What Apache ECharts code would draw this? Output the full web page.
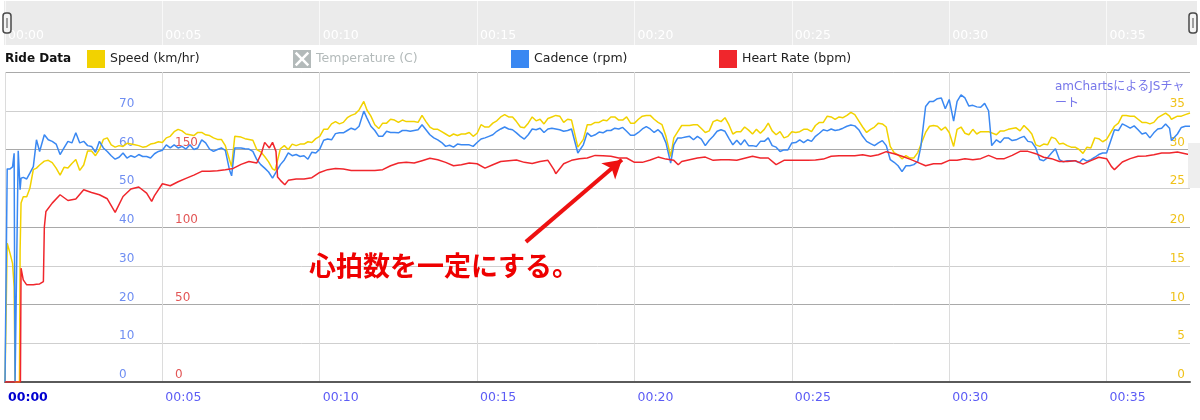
<!DOCTYPE html>
<html>
<head>
<meta charset="utf-8">
<script src="https://cdn.jsdelivr.net/npm/echarts@6/dist/echarts.min.js"></script>
<style>
html,body{margin:0;padding:0;background:#fff;}
#c{width:1200px;height:420px;}
</style>
</head>
<body>
<div id="c"></div>
<script>
// time axis tick labels (minutes)
const timeLabels = ['00:00','00:05','00:10','00:15','00:20','00:25','00:30','00:35'];
const seriesNames = ['Speed (km/hr)','Temperature (C)','Cadence (rpm)','Heart Rate (bpm)'];

// [minutes, km/hr]
const speedData = [[0,0],[0.03,0],[0.07,17.9],[0.16,16.6],[0.24,15.3],[0.29,12.3],[0.32,0],[0.46,0],[0.48,17],[0.51,23.1],[0.58,23.9],[0.69,23.9],[0.79,25],[0.9,27.4],[1.0,27.6],[1.1,28],
[1.25,28.5],[1.5,28.3],[1.75,26.7],[2,27.6],[2.25,28.7],[2.5,28],[2.75,29.8],[3,30],[3.25,31.5],[3.5,30.3],[3.75,30.4],[4,30.7],[4.25,30.5],[4.5,30.4],[4.75,30.8],[5,30.9],[5.25,31.7],[5.5,32.6],[5.75,32],[6,31.8],[6.25,32.2],[6.5,31.8],[6.75,31.3],[7,30.5],
[7.13,28.7],[7.2,27.8],[7.3,31.7],[7.5,31.6],[7.75,31.3],[8,30],[8.25,29.1],[8.5,27.5],[8.58,27.3],[8.75,30.1],[9,30],[9.25,30.5],[9.5,30.7],[9.75,30.9],[10,31.7],[10.25,32.6],[10.5,33.6],[10.75,33.5],[11,34.4],[11.25,35.1],[11.4,36.2],
[11.5,35.1],[11.75,33.2],[12,33.4],[12.25,33.9],[12.5,33.5],[12.75,33.6],[13,33.6],[13.25,34.4],[13.5,32.9],[13.75,32.6],[14,32],[14.25,32],[14.5,32],[14.75,32.2],[15,32.1],[15.25,32.9],[15.5,33.4],[15.75,34.2],[16,34.2],[16.25,33.6],[16.5,32.8],[16.75,34.2],[17,33.9],[17.25,34],[17.5,34.4],[17.75,33.5],[18,33.8],
[18.2,30.3],[18.25,30.4],[18.5,33.2],[18.75,33.5],[19,33.8],[19.25,34.2],[19.5,33.8],[19.75,34.2],[20,33.4],[20.25,34.3],[20.5,34.4],[20.75,33.5],[21,31.7],[21.15,29.1],
[21.25,31.5],[21.5,33.1],[21.75,33.1],[22,33.2],[22.25,32.2],[22.5,33.6],[22.75,33.6],[23,33.2],[23.25,32.3],[23.5,32.9],[23.75,32],[24,32.1],[24.25,33.4],[24.5,31.9],[24.75,31.5],[25,32.3],[25.25,32.3],[25.5,32.6],[25.75,33.1],[26,33.5],[26.25,34.2],[26.5,34.2],[26.75,34.4],[27,34.5],[27.25,32.9],[27.5,32.6],[27.75,33.4],[28,32.9],[28.25,29.6],[28.5,28.8],[28.75,28.9],[29,29.6],[29.25,32.2],[29.5,33.1],[29.75,32.5],[30,32.2],
[30.14,30.4],[30.25,32.6],[30.5,32.1],[30.75,32.6],[31,32.3],[31.25,32.3],[31.5,31.9],[31.75,32.4],[32,32.7],[32.25,32.4],[32.5,32.6],[32.75,30.6],[33,30.7],[33.25,31.6],[33.5,30.7],[33.75,30.5],[34,30.3],[34.25,29.5],[34.5,30.2],[34.75,31.4],[35,31.3],[35.25,33],[35.5,34.4],[35.75,34.3],[36,33.9],[36.25,33.5],[36.5,33.5],[36.75,34.4],[37,34.3],[37.06,33.9],[37.25,34.3],[37.5,34.5],[37.65,34.7]];
// in-between speed readings
const speedDetail = [[1.375,28.6],[1.625,27.6],[1.875,27.7],[2.125,28.2],[2.375,27.3],[2.625,29.8],[2.875,29.2],[3.125,31.3],[3.375,30.6],[3.625,30.5],[3.875,30.8],[4.125,30.6],[4.375,30.3],[4.625,30.7],[4.875,31],[5.125,31.5],[5.375,32.3],[5.625,32.4],[5.875,31.9],[6.125,32.2],[6.375,31.9],[6.625,31.5],[6.875,31.3],
[7.625,31.4],[7.875,31.2],[8.125,29.7],[8.375,28.4],[8.875,30.5],[9.125,30.7],[9.375,30.7],[9.625,31],[9.875,31.4],[10.125,32.6],[10.375,33.3],[10.625,33.3],[10.875,34.1],[11.125,34.6],[11.625,34.3],[11.875,32.7],[12.125,33.4],[12.375,33.8],[12.625,33.8],[12.875,33.6],[13.125,33.5],[13.375,33.6],[13.625,32.6],[13.875,32.3],[14.125,31.7],[14.375,31.8],[14.625,32],[14.875,31.7],
[15.125,33.2],[15.375,32.9],[15.625,33.7],[15.875,34.5],[16.125,34.2],[16.375,32.9],[16.625,33.4],[16.875,33.7],[17.125,33.3],[17.375,34.2],[17.625,34.3],[17.875,33.9],[18.375,31.3],[18.625,33.2],[18.875,33.5],[19.125,33.7],[19.375,34.2],[19.625,33.8],[19.875,33.4],[20.125,33.9],[20.375,34.4],[20.625,33.9],[20.875,33.2],[21.375,32.3],[21.625,33.1],[21.875,33.2],[22.125,32.7],[22.375,32.4],[22.625,33.8],
[22.875,34.1],[23.125,32],[23.375,32.3],[23.625,32.5],[23.875,32.6],[24.125,32.6],[24.375,32.4],[24.625,32.3],[24.875,31.7],[25.125,32.2],[25.375,32.6],[25.625,32.3],[25.875,33.5],[26.125,34.3],[26.375,33.9],[26.625,34.1],[26.875,34.8],[27.125,33.7],[27.375,32.2],[27.625,32.9],[27.875,33.3],[28.125,30.4],[28.375,29.3],[28.625,29.2],[28.875,28.9],[29.375,33],[29.625,33],[29.875,32.9],
[30.375,32.9],[30.625,31.9],[30.875,32],[31.125,32.3],[31.625,32.4],[31.875,32.6],[32.125,32.8],[32.375,33.1],[32.625,32],[32.875,30.4],[33.125,30.6],[33.375,31.4],[33.625,30.8],[33.875,30.3],[34.125,30],[34.375,30.3],[34.625,31.5],[34.875,31],[35.375,33.4],[35.625,34.4],[35.875,34.3],[36.125,33.5],[36.375,33.3],[36.625,34.1],[36.875,34.7],[37.375,34.3]];

// [minutes, rpm]
const cadenceData = [[0,0],[0.03,0],[0.07,55],[0.16,55],[0.24,55.5],[0.29,59],[0.32,0],[0.37,0],[0.42,59.7],[0.46,59.5],[0.48,49.6],[0.51,52.6],[0.58,52.8],[0.69,52.4],[0.79,53.9],[0.9,55.6],[1.0,62.5],[1.1,59.5],
[1.25,63.8],[1.5,62.1],[1.75,58.7],[2,62.1],[2.25,64.3],[2.5,62.1],[2.75,60.8],[3,62.1],[3.25,59.5],[3.5,57.5],[3.75,59.1],[4,58.4],[4.25,58.7],[4.5,58.2],[4.75,58.9],[5,59.8],[5.25,60.4],[5.5,60.4],[5.75,60.1],[6,60],[6.25,62.5],[6.5,60.1],[6.75,60],[7,59.8],
[7.13,54.8],[7.2,53.2],[7.3,60.4],[7.5,60.4],[7.75,60.1],[8,57.4],[8.25,55.2],[8.5,52.6],[8.75,56.1],[9,59.1],[9.25,58.7],[9.5,58.4],[9.75,59.3],[10,60.1],[10.25,62.7],[10.5,64.1],[10.75,64.3],[11,65.5],[11.25,66],[11.4,69.9],[11.5,68.1],[11.75,64.9],[12,63.4],[12.25,64.4],[12.5,64.3],[12.75,64.9],[13,64.9],[13.25,66.4],[13.5,63.8],[13.75,62.5],[14,60.8],[14.25,60.6],[14.5,61.2],[14.75,61.2],[15,61.8],
[15.25,63],[15.5,63.8],[15.75,65.3],[16,65.3],[16.25,64.3],[16.5,62.7],[16.75,65.3],[17,65.5],[17.25,65.3],[17.5,65.3],[17.75,64.7],[18,65.3],[18.2,59.1],[18.25,59.5],[18.5,64.3],[18.75,63.8],[19,64.3],[19.25,64.9],[19.5,65.3],[19.75,64.7],[20,63.7],[20.25,65.3],[20.5,65.3],[20.75,65.1],[21,61.7],[21.15,56.5],[21.25,61.2],[21.5,63],[21.75,63.4],[22,63.4],[22.25,61],[22.5,63.4],[22.75,65.1],
[23,62.9],[23.25,62.4],[23.5,62.5],[23.75,61],[24,62.1],[24.25,63],[24.5,60.6],[24.75,59.9],[25,61.7],[25.25,62.5],[25.5,62.5],[25.75,63.4],[26,65.1],[26.25,65.3],[26.5,65.1],[26.75,66],[27,66.1],[27.25,63.4],[27.5,61.5],[27.75,61.7],[28,61],[28.25,56.7],[28.5,54.3],[28.75,55.8],[29,56.9],[29.1,60.8],[29.25,71.1],[29.5,72.4],[29.75,73.3],[30,72.9],[30.14,67.3],[30.25,72.4],
[30.5,73.3],[30.75,71.4],[31,70.9],[31.25,70],[31.35,61],[31.5,62.5],[31.75,63],[32,62.3],[32.25,63],[32.5,62.1],[32.75,60.4],[33,57.1],[33.25,59.1],[33.5,57.4],[33.75,57.1],[34,57.1],[34.25,57.6],[34.5,57.4],[34.75,58.7],[35,59.1],[35.25,65.1],[35.5,66.6],[35.75,65.5],[36,65.1],[36.25,64.3],[36.5,64.3],[36.75,65.5],[37,65.5],[37.06,62.3],[37.25,64],[37.5,66],[37.65,66]];
// in-between cadence readings
const cadenceDetail = [[1.375,62.5],[1.625,61.4],[1.875,60.4],[2.125,61.7],[2.375,61.7],[2.625,61],[2.875,59.3],[3.125,60.4],[3.375,58.4],[3.625,58],[3.875,57.8],[4.125,58],[4.375,58.2],[4.625,57.8],[4.875,59.5],[5.125,61.2],[5.375,61.2],[5.625,60.8],[5.875,61.2],[6.125,60.4],[6.375,61.7],[6.625,59.5],[6.875,60.4],
[7.625,60.2],[7.875,59.5],[8.125,56.1],[8.375,54.2],[8.875,57.3],[9.125,58.4],[9.375,58.2],[9.625,57.5],[9.875,59.1],[10.125,62.4],[10.375,62.5],[10.625,64.3],[10.875,64.9],[11.125,65.1],[11.625,66],[11.875,63.4],[12.125,64.7],[12.375,64.4],[12.625,64.9],[12.875,64.7],[13.125,65.1],[13.375,65.1],[13.625,63],[13.875,61.8],[14.125,61.1],[14.375,61.4],[14.625,61.2],[14.875,60.8],
[15.125,62.7],[15.375,63.4],[15.625,64.7],[15.875,65.8],[16.125,65.1],[16.375,63.4],[16.625,63.8],[16.875,65.1],[17.125,64.4],[17.375,65.5],[17.625,65.1],[17.875,64.9],[18.375,61.2],[18.625,63.4],[18.875,64.5],[19.125,64.9],[19.375,65.5],[19.625,65.7],[19.875,63.7],[20.125,64.4],[20.375,65.9],[20.625,64.4],[20.875,64.1],[21.375,63],[21.625,63.2],[21.875,62.5],[22.125,62.7],[22.375,62.4],[22.625,64.7],
[22.875,64.7],[23.125,61.2],[23.375,61.2],[23.625,61],[23.875,60.8],[24.125,62.1],[24.375,61],[24.625,59.5],[24.875,59.9],[25.125,61.8],[25.375,61.8],[25.625,62.1],[25.875,64.2],[26.125,64.8],[26.375,64.9],[26.625,65.5],[26.875,66.3],[27.125,65.1],[27.375,62.1],[27.625,61],[27.875,62.3],[28.125,57.4],[28.375,55.8],[28.625,55.8],[28.875,56.1],[29.375,72.4],[29.625,73.1],[29.875,70.5],
[30.375,74.1],[30.625,71.2],[30.875,71],[31.125,71.9],[31.625,61.8],[31.875,63],[32.125,62.5],[32.375,63.4],[32.625,61.9],[32.875,57.4],[33.125,57.9],[33.375,60.2],[33.625,56.8],[33.875,57.1],[34.125,56.6],[34.375,57],[34.625,58],[34.875,59.1],[35.375,64.9],[35.625,66.1],[35.875,66.1],[36.125,64],[36.375,63],[36.625,65.3],[36.875,66.6],[37.375,65.7]];

// [minutes, bpm]
const heartRateData = [[0,0],[0.49,0],[0.51,73.4],[0.58,65.9],[0.69,62.7],[0.79,62.7],[0.9,62.7],[1.0,63],[1.1,63.3],[1.22,64.8],[1.25,100],[1.3,110],[1.5,115.4],[1.75,120.8],[2,117.1],[2.25,118],[2.5,124],[2.75,122.3],[3,120.8],[3.25,118.2],[3.5,109.4],[3.75,119.7],[4,124.5],[4.25,125.8],[4.5,121.9],[4.66,116.5],[4.75,120.2],[5,127.9],[5.25,126.6],[5.5,129.2],[5.75,131.4],[6,133.5],[6.25,135.9],[6.5,135.9],[6.75,136.3],[7,137],[7.25,137.8],[7.5,140.4],
[7.75,142.3],[8,141.3],[8.15,147.7],[8.25,154.6],[8.4,151],[8.5,154.6],[8.61,148.8],[8.66,132.2],[8.75,130.1],[8.89,127.3],[9,130.1],[9.25,130.9],[9.5,130.9],[9.75,131.8],[10,135.2],[10.25,137],[10.5,137.8],[10.75,137.4],[11,136.5],[11.25,136.5],[11.5,136.5],[11.75,136.5],[12,137],[12.25,139.5],[12.5,141.3],[12.75,141.7],[13,141.3],[13.25,142.8],[13.5,144.3],[13.75,143.4],[14,141.7],[14.25,139.5],[14.5,140.2],[14.75,141.3],[15,140.8],
[15.25,138],[15.5,140.2],[15.75,142.3],[16,142.8],[16.25,143.2],[16.5,141.7],[16.75,141],[17,142.3],[17.25,143],[17.44,137],[17.5,134.4],[17.75,140.8],[18,143],[18.25,144],[18.5,144.5],[18.75,146.2],[19,146],[19.25,145.6],[19.5,144.5],[19.75,144.5],[20,141.7],[20.25,141.7],[20.5,143.2],[20.75,145.1],[21,143.8],[21.25,143],[21.39,140.2],[21.5,142.3],[21.75,143.4],[22,144.5],[22.25,145.1],[22.5,143],[22.75,143.4],
[23,143.4],[23.25,143],[23.5,144.3],[23.75,145.6],[24,144.5],[24.25,144.5],[24.5,140.2],[24.75,143],[25,143],[25.25,143],[25.5,143],[25.75,143.2],[26,143.8],[26.25,145.6],[26.5,146],[26.75,146],[27,146],[27.25,146.6],[27.5,145.6],[27.75,146.6],[28,148.6],[28.25,147.3],[28.5,145.6],[28.75,143.8],[29,141.7],[29.25,139.5],[29.5,140.8],[29.75,140.8],[30,143],[30.25,143],
[30.5,144.1],[30.75,143.4],[31,144.1],[31.25,146.2],[31.5,144.1],[31.75,144.1],[32,146.2],[32.25,148.8],[32.5,148.8],[32.75,147.3],[33,145],[33.25,144.1],[33.5,142.3],[33.75,142.3],[34,142.8],[34.25,140.6],[34.5,142.8],[34.75,145],[35,144.1],[35.15,139.1],[35.25,137],[35.5,141.9],[35.75,144.1],[36,145.6],[36.25,145.8],[36.5,146.6],[36.75,147.7],[37,147.7],[37.25,148.4],[37.5,147.3],[37.65,146.6]];

const temperatureData = [];

// annotation arrow (minutes, bpm)
const arrowFrom = [16.55, 90.4];
const arrowTo = [19.6, 143.4];
const annotationText = '心拍数を一定にする。';
const creditText = 'amChartsによるJSチャ\nート';

const byTime = (a, b) => a.concat(b).sort((p, q) => p[0] - q[0]);

const X_MAX = 37.65;
const FONT = '"DejaVu Sans", "Noto Sans CJK JP", sans-serif';
const C_SPEED = '#f2d200', C_CAD = '#3a88f2', C_HR = '#f0262c', C_TEMP = '#b3baba';

function tickLabel(v, boldFirst) {
  const i = Math.round(v / 5);
  if (Math.abs(v - i * 5) > 1e-6 || !timeLabels[i]) return '';
  return (boldFirst && i === 0) ? '{b|' + timeLabels[0] + '}' : timeLabels[i];
}

const legendCommon = {
  top: 50, padding: 0, itemWidth: 18, itemHeight: 18, icon: 'rect',
  itemStyle: { borderWidth: 0 },
  textStyle: { fontFamily: FONT, fontSize: 12.5, color: '#222' },
  inactiveColor: C_TEMP, inactiveBorderWidth: 0
};

const chart = echarts.init(document.getElementById('c'), null, { renderer: 'canvas' });
chart.setOption({
  animation: false,
  backgroundColor: '#fff',
  textStyle: { fontFamily: FONT },
  title: { text: 'Ride Data', left: 5, top: 53, padding: 0,
    textStyle: { fontFamily: FONT, fontSize: 12, fontWeight: 'bold', color: '#111' } },
  legend: [
    Object.assign({}, legendCommon, { data: [seriesNames[0]], left: 87 }),
    Object.assign({}, legendCommon, { data: [{ name: seriesNames[1], icon: 'path://M0,0H10V10H0Z M1,2L4,5L1,8L2,9L5,6L8,9L9,8L6,5L9,2L8,1L5,4L2,1Z' }], left: 293,
      selected: { 'Temperature (C)': false } }),
    Object.assign({}, legendCommon, { data: [seriesNames[2]], left: 511 }),
    Object.assign({}, legendCommon, { data: [seriesNames[3]], left: 719 })
  ],
  grid: [
    { left: 5, right: 10, top: 72, bottom: 38, show: false },
    { left: 5, right: 10, top: 1, height: 44, show: false }
  ],
  xAxis: [
    { type: 'value', gridIndex: 0, min: 0, max: X_MAX, interval: 5,
      axisLine: { show: true, onZero: false, lineStyle: { color: '#5a5a5a', width: 2 } },
      axisTick: { show: false },
      splitLine: { show: true, showMaxLine: false, lineStyle: { color: '#dcdcdc', width: 1 } },
      axisLabel: { showMaxLabel: false, align: 'left', padding: [0, 0, 0, 3], margin: 9,
        fontFamily: FONT, fontSize: 12.5, color: '#5c5cf5',
        formatter: v => tickLabel(v, true),
        rich: { b: { fontFamily: FONT, fontSize: 12.5, fontWeight: 'bold', color: '#0000d0' } } } },
    { type: 'value', gridIndex: 1, min: 0, max: X_MAX, interval: 5,
      axisLine: { show: false }, axisTick: { show: false },
      splitLine: { show: true, showMaxLine: false, lineStyle: { color: '#f8f8f8', width: 1 } },
      axisLabel: { inside: true, showMaxLabel: false, align: 'left', verticalAlign: 'bottom', padding: [0, 0, 0, 3], margin: 3,
        fontFamily: FONT, fontSize: 12.5, color: '#ffffff', formatter: v => tickLabel(v, false) } }
  ],
  yAxis: [
    { type: 'value', gridIndex: 0, position: 'left', min: 0, max: 80, interval: 10,
      axisLine: { show: false }, axisTick: { show: false },
      splitLine: { show: true, lineStyle: { color: '#cfcfcf', width: 1 } },
      axisLabel: { inside: true, margin: 114, align: 'left', verticalAlign: 'bottom', showMaxLabel: false,
        padding: [0, 0, 1, 0], fontFamily: FONT, fontSize: 12, color: '#6f8ef2' } },
    { type: 'value', gridIndex: 0, position: 'left', min: 0, max: 200, interval: 50,
      axisLine: { show: false }, axisTick: { show: false },
      splitLine: { show: true, lineStyle: { color: '#a9a9a9', width: 1 } },
      axisLabel: { inside: true, margin: 170, align: 'left', verticalAlign: 'bottom', showMaxLabel: false,
        padding: [0, 0, 1, 0], fontFamily: FONT, fontSize: 12, color: '#e25656' } },
    { type: 'value', gridIndex: 0, position: 'right', min: 0, max: 40, interval: 5,
      axisLine: { show: false }, axisTick: { show: false }, splitLine: { show: false },
      axisLabel: { inside: true, margin: 5, align: 'right', verticalAlign: 'bottom', showMaxLabel: false,
        padding: [0, 0, 1, 0], fontFamily: FONT, fontSize: 12, color: '#f0c21a' } },
    { type: 'value', gridIndex: 1, show: false, min: 0, max: 1 }
  ],
  graphic: [
    { type: 'rect', z: -10, shape: { x: 4, y: 1, width: 1193, height: 44 }, style: { fill: '#ebebeb' }, silent: true },
    { type: 'rect', z: 10, shape: { x: 3, y: 13, width: 8, height: 20, r: 3 }, style: { fill: '#f4f4f4', stroke: '#4a4a4a', lineWidth: 1.5 }, silent: true },
    { type: 'line', z: 11, shape: { x1: 7, y1: 18, x2: 7, y2: 28 }, style: { stroke: '#4a4a4a', lineWidth: 1 }, silent: true },
    { type: 'rect', z: 10, shape: { x: 1189, y: 13, width: 8, height: 20, r: 3 }, style: { fill: '#f4f4f4', stroke: '#4a4a4a', lineWidth: 1.5 }, silent: true },
    { type: 'line', z: 11, shape: { x1: 1193, y1: 18, x2: 1193, y2: 28 }, style: { stroke: '#4a4a4a', lineWidth: 1 }, silent: true },
    { type: 'rect', z: 10, shape: { x: 1188, y: 143, width: 12, height: 45 }, style: { fill: '#eeeeee' }, silent: true },
    { type: 'text', z: 50, x: 1055, y: 79, silent: true,
      style: { text: creditText, font: '12px "DejaVu Sans", "Noto Sans CJK JP", sans-serif', fill: '#7676ea', lineHeight: 16.5 } },
    { type: 'text', z: 50, x: 309, y: 266, silent: true,
      style: { text: annotationText, font: 'bold 27px "Noto Sans CJK JP", sans-serif', fill: '#ee0000', verticalAlign: 'middle' } }
  ],
  series: [
    { name: seriesNames[0], type: 'line', xAxisIndex: 0, yAxisIndex: 2, data: byTime(speedData, speedDetail),
      symbol: 'none', showSymbol: false, lineStyle: { color: C_SPEED, width: 1.5 }, itemStyle: { color: C_SPEED }, z: 3 },
    { name: seriesNames[1], type: 'line', xAxisIndex: 0, yAxisIndex: 2, data: temperatureData,
      symbol: 'none', lineStyle: { color: C_TEMP }, itemStyle: { color: C_TEMP } },
    { name: seriesNames[2], type: 'line', xAxisIndex: 0, yAxisIndex: 0, data: byTime(cadenceData, cadenceDetail),
      symbol: 'none', showSymbol: false, lineStyle: { color: C_CAD, width: 1.5 }, itemStyle: { color: C_CAD }, z: 4 },
    { name: seriesNames[3], type: 'line', xAxisIndex: 0, yAxisIndex: 1, data: heartRateData,
      symbol: 'none', showSymbol: false, lineStyle: { color: C_HR, width: 1.5 }, itemStyle: { color: C_HR }, z: 5,
      markLine: { silent: true, animation: false, symbol: ['none', 'arrow'], symbolSize: [16, 18],
        label: { show: false }, lineStyle: { color: '#ee1111', width: 4, type: 'solid' },
        data: [[{ coord: arrowFrom }, { coord: arrowTo }]] } }
  ]
});
</script>
</body>
</html>
